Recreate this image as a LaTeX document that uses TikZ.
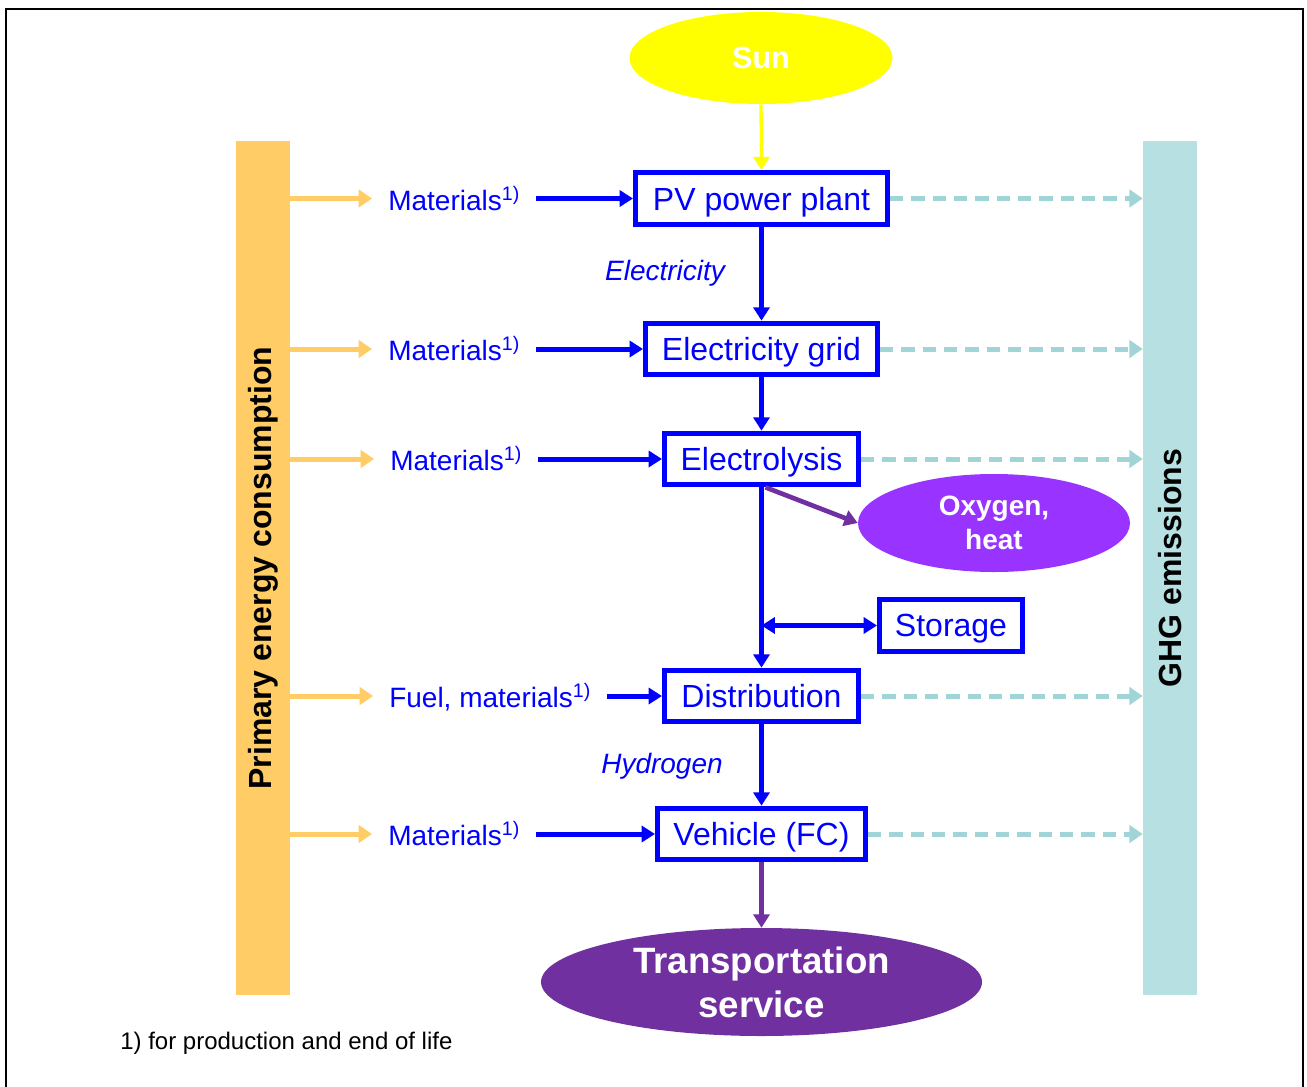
\documentclass[tikz,border=0pt]{standalone}
\usepackage{fontspec}
\setmainfont{Liberation Sans}
\usetikzlibrary{arrows.meta,shapes.geometric}
\definecolor{pblue}{RGB}{0,0,255}
\definecolor{orng}{RGB}{255,204,102}
\definecolor{tealbar}{RGB}{183,224,226}
\definecolor{tealarr}{RGB}{160,212,214}
\definecolor{oxy}{RGB}{153,51,255}
\definecolor{purp}{RGB}{112,48,160}
\definecolor{sunyel}{RGB}{255,255,0}
\newcommand\supone{\textsuperscript{1)}}
\begin{document}
\begin{tikzpicture}[x=0.75pt,y=-0.75pt,
 procbox/.style={draw=pblue, line width=3.75pt, fill=white, text=pblue, inner sep=0pt, text depth=0pt, minimum height=38.75pt, font=\fontsize{24}{28}\selectfont},
 matlabel/.style={text=pblue, inner xsep=12pt, inner ysep=2pt, anchor=west, font=\fontsize{21}{25}\selectfont},
 flowlabel/.style={text=pblue, inner sep=0pt, font=\fontsize{21}{25}\selectfont\itshape},
 barbox/.style={minimum width=40.5pt, minimum height=640.5pt, inner sep=0pt, draw=none},
 bartext/.style={inner sep=0pt, font=\fontsize{24}{28}\selectfont\bfseries, rotate=90},
 blob/.style={ellipse, inner sep=0pt, text=white, align=center},
 bluearr/.style={draw=pblue, line width=3.75pt, -{Triangle[length=10pt,width=12pt]}},
 orarr/.style={draw=orng, line width=3.75pt, -{Triangle[length=10pt,width=13pt]}},
 dasharr/.style={draw=tealarr, line width=3.75pt, dash pattern=on 10pt off 6pt, -{Triangle[length=10pt,width=13pt]}},
 purparr/.style={draw=purp, line width=3.5pt, -{Triangle[length=10pt,width=12pt]}},
]
\useasboundingbox (0,0) rectangle (1307,1086);
% frame
\draw[line width=1.5pt] (6,1092) -- (6,9) -- (1303,9) -- (1303,1092);

% side bars
\node[barbox, fill=orng] (obar) at (263,568) {};
\node[bartext] (otext) at (obar.center) {Primary energy consumption};
\node[barbox, fill=tealbar] (gbar) at (1170,568) {};
\node[bartext] (gtext) at (gbar.center) {GHG emissions};

% ellipses
\node[blob, fill=sunyel, minimum width=197.25pt, minimum height=69pt, font=\fontsize{23}{27}\selectfont\bfseries] (sun) at (761,58) {Sun};
\node[blob, fill=oxy, minimum width=204pt, minimum height=73.5pt, font=\fontsize{21}{25.5}\selectfont\bfseries] (ox) at (994,523) {Oxygen,\\heat};
\node[blob, fill=purp, minimum width=330.75pt, minimum height=81pt, font=\fontsize{27.5}{33}\selectfont\bfseries] (ts) at (761.5,982) {Transportation\\service};

% process boxes
\node[procbox, minimum width=189pt] (pv) at (761.5,198.5) {PV power plant};
\node[procbox, minimum width=174pt] (grid) at (761.5,349) {Electricity grid};
\node[procbox, minimum width=145.5pt] (el) at (761.5,459) {Electrolysis};
\node[procbox, minimum width=107.25pt] (st) at (951,625.5) {Storage};
\node[procbox, minimum width=145.5pt] (dist) at (761.5,696) {Distribution};
\node[procbox, minimum width=156pt] (veh) at (761.5,834) {Vehicle (FC)};

% material labels
\node[matlabel] (m1) at (372,199) {Materials\supone};
\node[matlabel] (m2) at (372,349) {Materials\supone};
\node[matlabel] (m3) at (374,459) {Materials\supone};
\node[matlabel] (m4) at (373,697) {Fuel, materials\supone};
\node[matlabel] (m5) at (372,834) {Materials\supone};

% flow labels
\node[flowlabel] (elec) at (665,273) {Electricity};
\node[flowlabel] (hyd) at (662,766) {Hydrogen};

% footnote
\node[anchor=west, inner sep=0pt, font=\fontsize{18}{22}\selectfont] (fn) at (120,1043) {1) for production and end of life};

% main flow
\draw[draw=sunyel, line width=2.5pt, -{Triangle[length=10pt,width=12pt]}] (sun.south) -- (pv.north);
\draw[bluearr] (pv.south) -- (grid.north);
\draw[bluearr] (grid.south) -- (el.north);
\draw[bluearr] (el.south) -- (dist.north);
\draw[bluearr] (dist.south) -- (veh.north);
\draw[purparr] (veh.south) -- (ts.north);
\draw[purparr] ([xshift=3pt]el.south) -- (ox.west);
\coordinate (j) at (el.south |- st.west);
\draw[draw=pblue, line width=3.75pt, {Triangle[length=10pt,width=12pt]}-{Triangle[length=10pt,width=12pt]}] (j) -- (st.west);

% inputs
\foreach \m/\b in {m1/pv, m2/grid, m3/el, m4/dist, m5/veh}{
  \draw[orarr] (obar.east |- \b.west) -- (\m.west |- \b.west);
  \draw[bluearr] (\m.east |- \b.west) -- (\b.west);
  \draw[dasharr] (\b.east) -- (gbar.west |- \b.east);
}
\end{tikzpicture}
\end{document}
